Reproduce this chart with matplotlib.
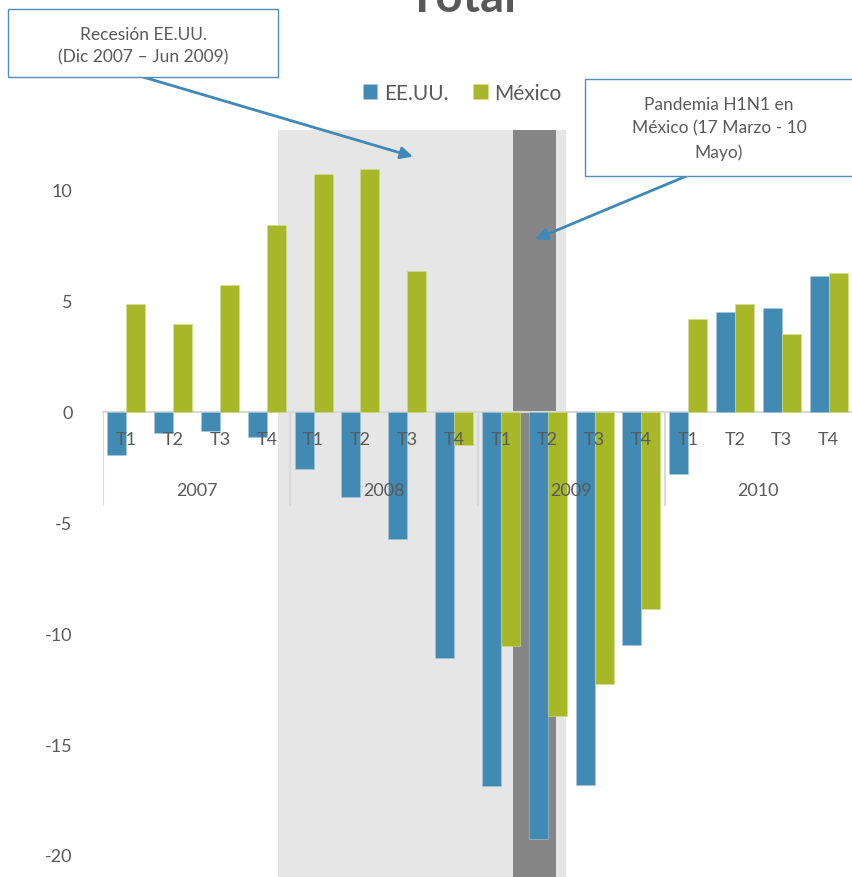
import matplotlib
matplotlib.use('Agg')
import matplotlib.pyplot as plt
from matplotlib.patches import Rectangle
import numpy as np

plt.rcParams['font.family'] = ['Lato', 'DejaVu Sans']

quarters = ['T1', 'T2', 'T3', 'T4'] * 4
years = ['2007', '2008', '2009', '2010']
usa = [-1.95, -0.98, -0.9, -1.15, -2.6, -3.86, -5.75, -11.14,
       -16.9, -19.28, -16.87, -10.53, -2.81, 4.5, 4.66, 6.12]
mexico = [4.83, 3.96, 5.7, 8.4, 10.7, 10.96, 6.33, -1.52,
          -10.56, -13.72, -12.31, -8.92, 4.17, 4.86, 3.48, 6.23]

# recession and pandemic periods, in category index units
recesion = (3.24, 9.39)
pandemia = (8.26, 9.18)

blue = '#418ab3'
green = '#a6b828'
txt = '#595959'
W, H = 852, 878

fig = plt.figure(figsize=(W / 100, H / 100), dpi=100)
ax = fig.add_axes([103 / W, 0, 1 - 103 / W, (H - 131) / H])
ax.set_axisbelow(False)

ymin, ymax = -21, 12.7
ax.set_xlim(-0.5, 15.5)
ax.set_ylim(ymin, ymax)

ax.fill_between(recesion, ymin, ymax, color='#e6e6e6', lw=0, zorder=0)
ax.fill_between(pandemia, ymin, ymax, color='#868686', lw=0, zorder=0.5)

x = np.arange(len(quarters))
w = 0.406
ax.bar(x - w / 2, usa, w, color=blue, edgecolor='#a9c8dc', lw=0.4, label='EE.UU.', zorder=1.2)
ax.bar(x + w / 2, mexico, w, color=green, edgecolor='#d3dc94', lw=0.4, label='México', zorder=1.2)

for s in ['top', 'right', 'left']:
    ax.spines[s].set_visible(False)
ax.spines['bottom'].set_position(('data', 0))
ax.spines['bottom'].set_color('#d9d9d9')
ax.spines['bottom'].set_linewidth(1.5)
ax.spines['bottom'].set_zorder(1.1)

ax.set_xticks(x, quarters)
ax.tick_params(axis='x', length=0, pad=14, labelsize=13, labelcolor=txt)
ax.set_yticks(np.arange(-20, 11, 5))
ax.set_yticklabels([str(v) for v in range(-20, 11, 5)])
ax.tick_params(axis='y', length=0, pad=22, labelsize=13, labelcolor=txt)

for i, yr in enumerate(years):
    ax.text(i * 4 + 1.5, -3.55, yr, ha='center', va='center', fontsize=13, color=txt, zorder=3)
for b in [-0.5, 3.5, 7.5, 11.5]:
    ax.plot([b, b], [0, -4.2], color='#d9d9d9', lw=1.5, zorder=1)

leg = fig.legend(loc='center', bbox_to_anchor=(462 / W, 1 - 94 / H), ncol=2, frameon=False,
                 handlelength=0.7, handleheight=0.7, handletextpad=0.3, columnspacing=1.2,
                 fontsize=15)
for t in leg.get_texts():
    t.set_color(txt)

fig.text(462 / W, 1 - 12 / H, 'Total', ha='center', va='baseline', fontsize=34,
         fontweight='bold', color=txt)

# annotation boxes
def px_box(x0, y0, x1, y1):
    r = Rectangle((x0 / W, 1 - y1 / H), (x1 - x0) / W, (y1 - y0) / H, transform=fig.transFigure,
                  facecolor='white', edgecolor='#4f8fbb', lw=1.0, zorder=5)
    fig.add_artist(r)

px_box(8, 10, 278, 78)
fig.text(143 / W, 1 - 46 / H, 'Recesión EE.UU.\n(Dic 2007 – Jun 2009)', ha='center', va='center',
         fontsize=12.5, color=txt, linespacing=1.5, zorder=6)
px_box(585, 80, 870, 177)
fig.text(719 / W, 1 - 129 / H, 'Pandemia H1N1 en\nMéxico (17 Marzo - 10\nMayo)', ha='center',
         va='center', fontsize=12.5, color=txt, linespacing=1.6, zorder=6)

arrow = dict(arrowstyle='-|>', color='#3f88b8', lw=2, mutation_scale=18, shrinkA=0, shrinkB=0)
ax.annotate('', xy=(6.12, 11.5), xycoords='data', xytext=(143, H - 78), textcoords='figure pixels',
            arrowprops=arrow, zorder=7)
ax.annotate('', xy=(8.73, 7.77), xycoords='data', xytext=(720, H - 163), textcoords='figure pixels',
            arrowprops=arrow, zorder=7)

fig.savefig('out.png', dpi=100)
